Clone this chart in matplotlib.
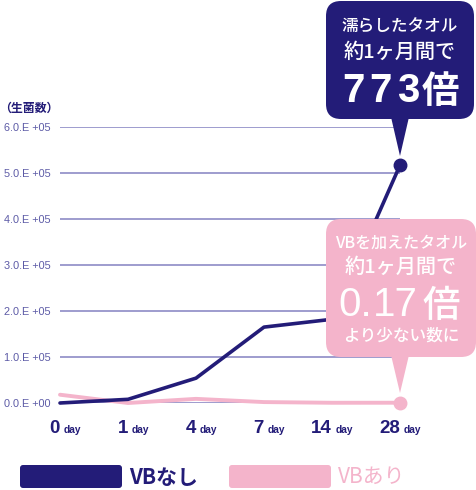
import matplotlib.pyplot as plt
from matplotlib.patches import FancyBboxPatch, Polygon

plt.rcParams['font.family'] = ['Noto Sans CJK JP', 'DejaVu Sans']

days = ['0', '1', '4', '7', '14', '28']
vb_nashi = [0, 8000, 54000, 165000, 182000, 517000]
vb_ari = [18000, 0, 9000, 2000, 500, 600]
y_ticks = [0, 100000, 200000, 300000, 400000, 500000, 600000]
y_labels = ['0.0.E +00', '1.0.E +05', '2.0.E +05', '3.0.E +05',
            '4.0.E +05', '5.0.E +05', '6.0.E +05']

navy = '#231c78'
pink = '#f4b4cb'
grid = '#8d8bc6'
tick_col = '#5c5aa6'
latin = ['Liberation Sans', 'Noto Sans CJK JP', 'DejaVu Sans']

W, H = 476, 490
fig = plt.figure(figsize=(W / 100, H / 100), dpi=100)
ax = fig.add_axes([60 / W, 87 / H, 340 / W, 276 / H])
x = list(range(len(days)))
ax.set_xlim(0, len(days) - 1)
ax.set_ylim(0, 600000)
for s in ax.spines.values():
    s.set_visible(False)
ax.set_yticks(y_ticks)
ax.set_yticklabels(y_labels, color=tick_col, fontsize=7.8, family=latin)
ax.tick_params(axis='y', length=0, pad=7)
ax.set_xticks([])
for t in y_ticks:
    ax.axhline(t, color=grid, lw=1.2, zorder=1)

ax.plot(x, vb_ari, color=pink, lw=2.8, clip_on=False, zorder=3,
        solid_capstyle='round', solid_joinstyle='round')
ax.plot(x, vb_nashi, color=navy, lw=2.6, clip_on=False, zorder=4,
        solid_capstyle='round', solid_joinstyle='round')
ax.plot(x[-1], vb_nashi[-1], 'o', color=navy, ms=9, clip_on=False, zorder=5)
ax.plot(x[-1], vb_ari[-1], 'o', color=pink, ms=9, clip_on=False, zorder=5)

for i, d in enumerate(days):
    ax.annotate(d, xy=(i, 0), xytext=(0, -21.5), textcoords='offset points',
                ha='right', va='baseline', fontsize=13.5, fontweight='bold', color=navy,
                family=latin, annotation_clip=False)
    ax.annotate('day', xy=(i, 0), xytext=(2.5, -21.5), textcoords='offset points',
                ha='left', va='baseline', fontsize=7.3, fontweight='bold', color=navy,
                family=latin, annotation_clip=False)

# overlay in pixel coordinates for bubbles, legend and unit label
ov = fig.add_axes([0, 0, 1, 1])
ov.set_xlim(0, W)
ov.set_ylim(H, 0)
ov.set_axis_off()
ov.patch.set_alpha(0)

ov.text(-1, 108, '（生菌数）', fontsize=8.6, fontweight='bold', color=navy,
        ha='left', va='center')

# navy bubble
ov.add_patch(FancyBboxPatch((326, 1), 148, 118, boxstyle='round,pad=0,rounding_size=15',
                            fc=navy, ec='none', zorder=5))
ov.add_patch(Polygon([(391, 117), (409, 117), (400, 156)], closed=True, fc=navy, ec='none', zorder=5))
ov.text(400, 27, '濡らしたタオル', color='white', fontsize=12, fontweight='medium',
        ha='center', va='center', zorder=6)
ov.text(400, 52, '約1ヶ月間で', color='white', fontsize=14.5, fontweight='medium',
        ha='center', va='center', zorder=6)
for c, cx in zip('773', [353.5, 380, 408]):
    ov.text(cx, 102, c, color='white', fontsize=29, fontweight='bold', family=latin,
            ha='center', va='baseline', zorder=6)
ov.text(440.5, 103, '倍', color='white', fontsize=27, fontweight='bold',
        ha='center', va='baseline', zorder=6)

# pink bubble
ov.add_patch(FancyBboxPatch((326, 219), 150, 138, boxstyle='round,pad=0,rounding_size=15',
                            fc=pink, ec='none', zorder=5))
ov.add_patch(Polygon([(391, 355), (409, 355), (400, 393)], closed=True, fc=pink, ec='none', zorder=5))
ov.text(401, 243, 'VBを加えたタオル', color='white', fontsize=11.5, fontweight='medium',
        ha='center', va='center', zorder=6)
ov.text(401, 267, '約1ヶ月間で', color='white', fontsize=14.5, fontweight='medium',
        ha='center', va='center', zorder=6)
ov.text(338, 316, '0.', color='white', fontsize=29, family=latin,
        ha='left', va='baseline', zorder=6)
ov.text(373, 316, '17', color='white', fontsize=29, family=latin,
        ha='left', va='baseline', zorder=6)
ov.text(441.5, 317, '倍', color='white', fontsize=27, fontweight='medium',
        ha='center', va='baseline', zorder=6)
ov.text(401, 336, 'より少ない数に', color='white', fontsize=12, fontweight='medium',
        ha='center', va='center', zorder=6)

# legend
ov.add_patch(FancyBboxPatch((20, 465), 102, 23, boxstyle='round,pad=0,rounding_size=3',
                            fc=navy, ec='none'))
ov.text(129, 477, 'VBなし', color=navy, fontsize=15, fontweight='bold', ha='left', va='center')
ov.add_patch(FancyBboxPatch((229, 465), 102, 23, boxstyle='round,pad=0,rounding_size=3',
                            fc=pink, ec='none'))
ov.text(338, 477, 'VBあり', color=pink, fontsize=15, ha='left', va='center')

fig.savefig('out.png', dpi=100)
